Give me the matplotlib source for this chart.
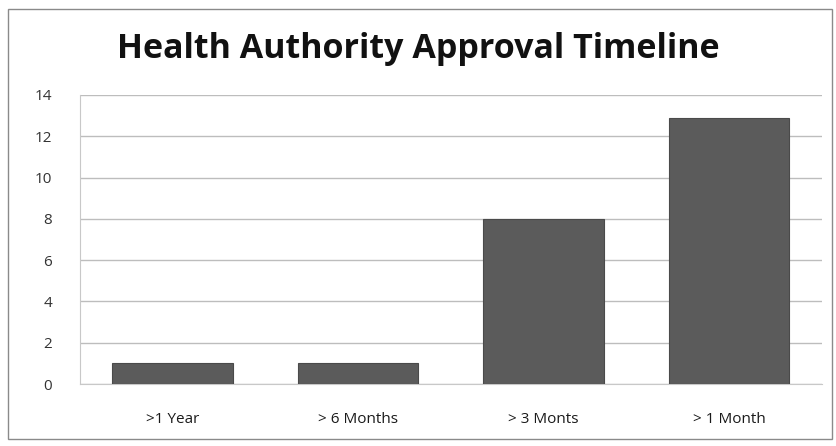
import matplotlib.pyplot as plt
from matplotlib.patches import Rectangle

# chart data
categories = ['>1 Year', '> 6 Months', '> 3 Monts', '> 1 Month']
counts = [1, 1, 8, 12.9]
yticks = [0, 2, 4, 6, 8, 10, 12, 14]

plt.rcParams['font.family'] = ['Open Sans', 'DejaVu Sans']

fig = plt.figure(figsize=(8.37, 4.46), dpi=100)
ax = fig.add_axes([0.0956, 0.139, 0.886, 0.648])

x = range(len(categories))
ax.bar(x, counts, width=0.65, color='#5b5b5b', edgecolor='#4a4a4a', linewidth=0.8, zorder=3)

ax.set_xlim(-0.5, len(categories) - 0.5)
ax.set_ylim(0, 14)
ax.set_yticks(yticks)
ax.set_xticks(list(x))
ax.set_xticklabels(categories, fontsize=11, color='#1a1a1a')
ax.tick_params(axis='y', labelsize=11, colors='#333333', length=0, pad=20)
ax.tick_params(axis='x', length=0, pad=20)
ax.grid(axis='y', color='#bdbdbd', linewidth=1, zorder=0)

for side in ['top', 'right']:
    ax.spines[side].set_visible(False)
ax.spines['left'].set_color('#c8c8c8')
ax.spines['bottom'].set_color('#c8c8c8')

fig.text(0.5, 0.89, 'Health Authority Approval Timeline', ha='center', va='center',
         fontsize=24.5, fontweight='bold', color='#111111')

# outer chart frame
fig.patches.append(Rectangle((0.009, 0.015), 0.985, 0.965, transform=fig.transFigure,
                             fill=False, edgecolor='#8a8a8a', linewidth=1))

plt.savefig('out.png', dpi=100)
